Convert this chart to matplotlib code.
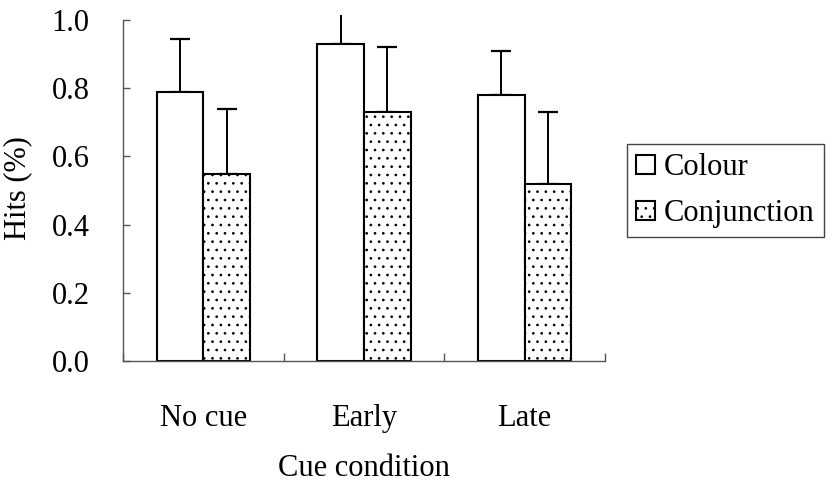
import matplotlib

matplotlib.use("Agg")
import matplotlib.pyplot as plt
import numpy as np

CONDITIONS = ["No cue", "Early", "Late"]
COLOUR_MEAN = [0.79, 0.93, 0.78]
COLOUR_SD = [0.155, 0.10, 0.13]
CONJ_MEAN = [0.55, 0.73, 0.52]
CONJ_SD = [0.19, 0.19, 0.21]
YTICKS = [0.0, 0.2, 0.4, 0.6, 0.8, 1.0]

plt.rcParams.update(
    {
        "font.family": ["Liberation Serif", "DejaVu Serif"],
        "font.size": 22,
        "hatch.color": "#444444",
        "hatch.linewidth": 0.7,
    }
)

W, H = 831, 483
fig = plt.figure(figsize=(W / 100, H / 100), dpi=100)
ax = fig.add_axes([123 / W, (H - 361) / H, (605 - 123) / W, (361 - 15) / H])

x = np.arange(len(CONDITIONS))
bw = 0.29
err_kw = dict(ecolor="black", elinewidth=1.4, capsize=7.2, capthick=1.6)
ax.bar(x - bw / 2, COLOUR_MEAN, bw, color="white", edgecolor="black", linewidth=1.5,
       label="Colour", zorder=2)
ax.bar(x + bw / 2, CONJ_MEAN, bw, color="white", edgecolor="black", linewidth=1.5,
       hatch="..", label="Conjunction", zorder=2)
# upper error bars only; the early/colour cap is clipped by the plot area like the original
ax.errorbar(x - bw / 2, COLOUR_MEAN, yerr=[np.zeros(3), COLOUR_SD], fmt="none", zorder=1, **err_kw)
ax.errorbar(x + bw / 2, CONJ_MEAN, yerr=[np.zeros(3), CONJ_SD], fmt="none", zorder=1, **err_kw)

ax.set_xlim(-0.5, len(CONDITIONS) - 0.5)
ax.set_ylim(0, 1.015)
ax.spines["top"].set_visible(False)
ax.spines["right"].set_visible(False)
ax.spines["left"].set_bounds(0, 1)
for s in ("left", "bottom"):
    ax.spines[s].set_color("#555555")
    ax.spines[s].set_linewidth(1.0)

ax.set_yticks(YTICKS)
ax.set_yticklabels([f"{v:.1f}" for v in YTICKS])
ax.tick_params(axis="y", direction="in", length=5, width=1, color="#555555", pad=24)
ax.set_xticks(x)
ax.set_xticklabels(CONDITIONS)
ax.tick_params(axis="x", length=0, pad=31)
ax.set_xticks(np.arange(len(CONDITIONS) + 1) - 0.5, minor=True)
ax.tick_params(axis="x", which="minor", direction="in", length=6, width=1, color="#555555")

ax.set_xlabel("Cue condition", labelpad=15)
ax.set_ylabel("Hits (%)", labelpad=14)

leg = fig.legend(loc="upper left", bbox_to_anchor=(627 / W, 1 - 144 / H), frameon=True,
                 fancybox=False, edgecolor="#444444", framealpha=1, borderpad=0.3,
                 handlelength=0.6, handleheight=0.6, handletextpad=0.3, labelspacing=0.55,
                 borderaxespad=0)
leg.get_frame().set_linewidth(1.0)

fig.savefig("out.png", dpi=100)
